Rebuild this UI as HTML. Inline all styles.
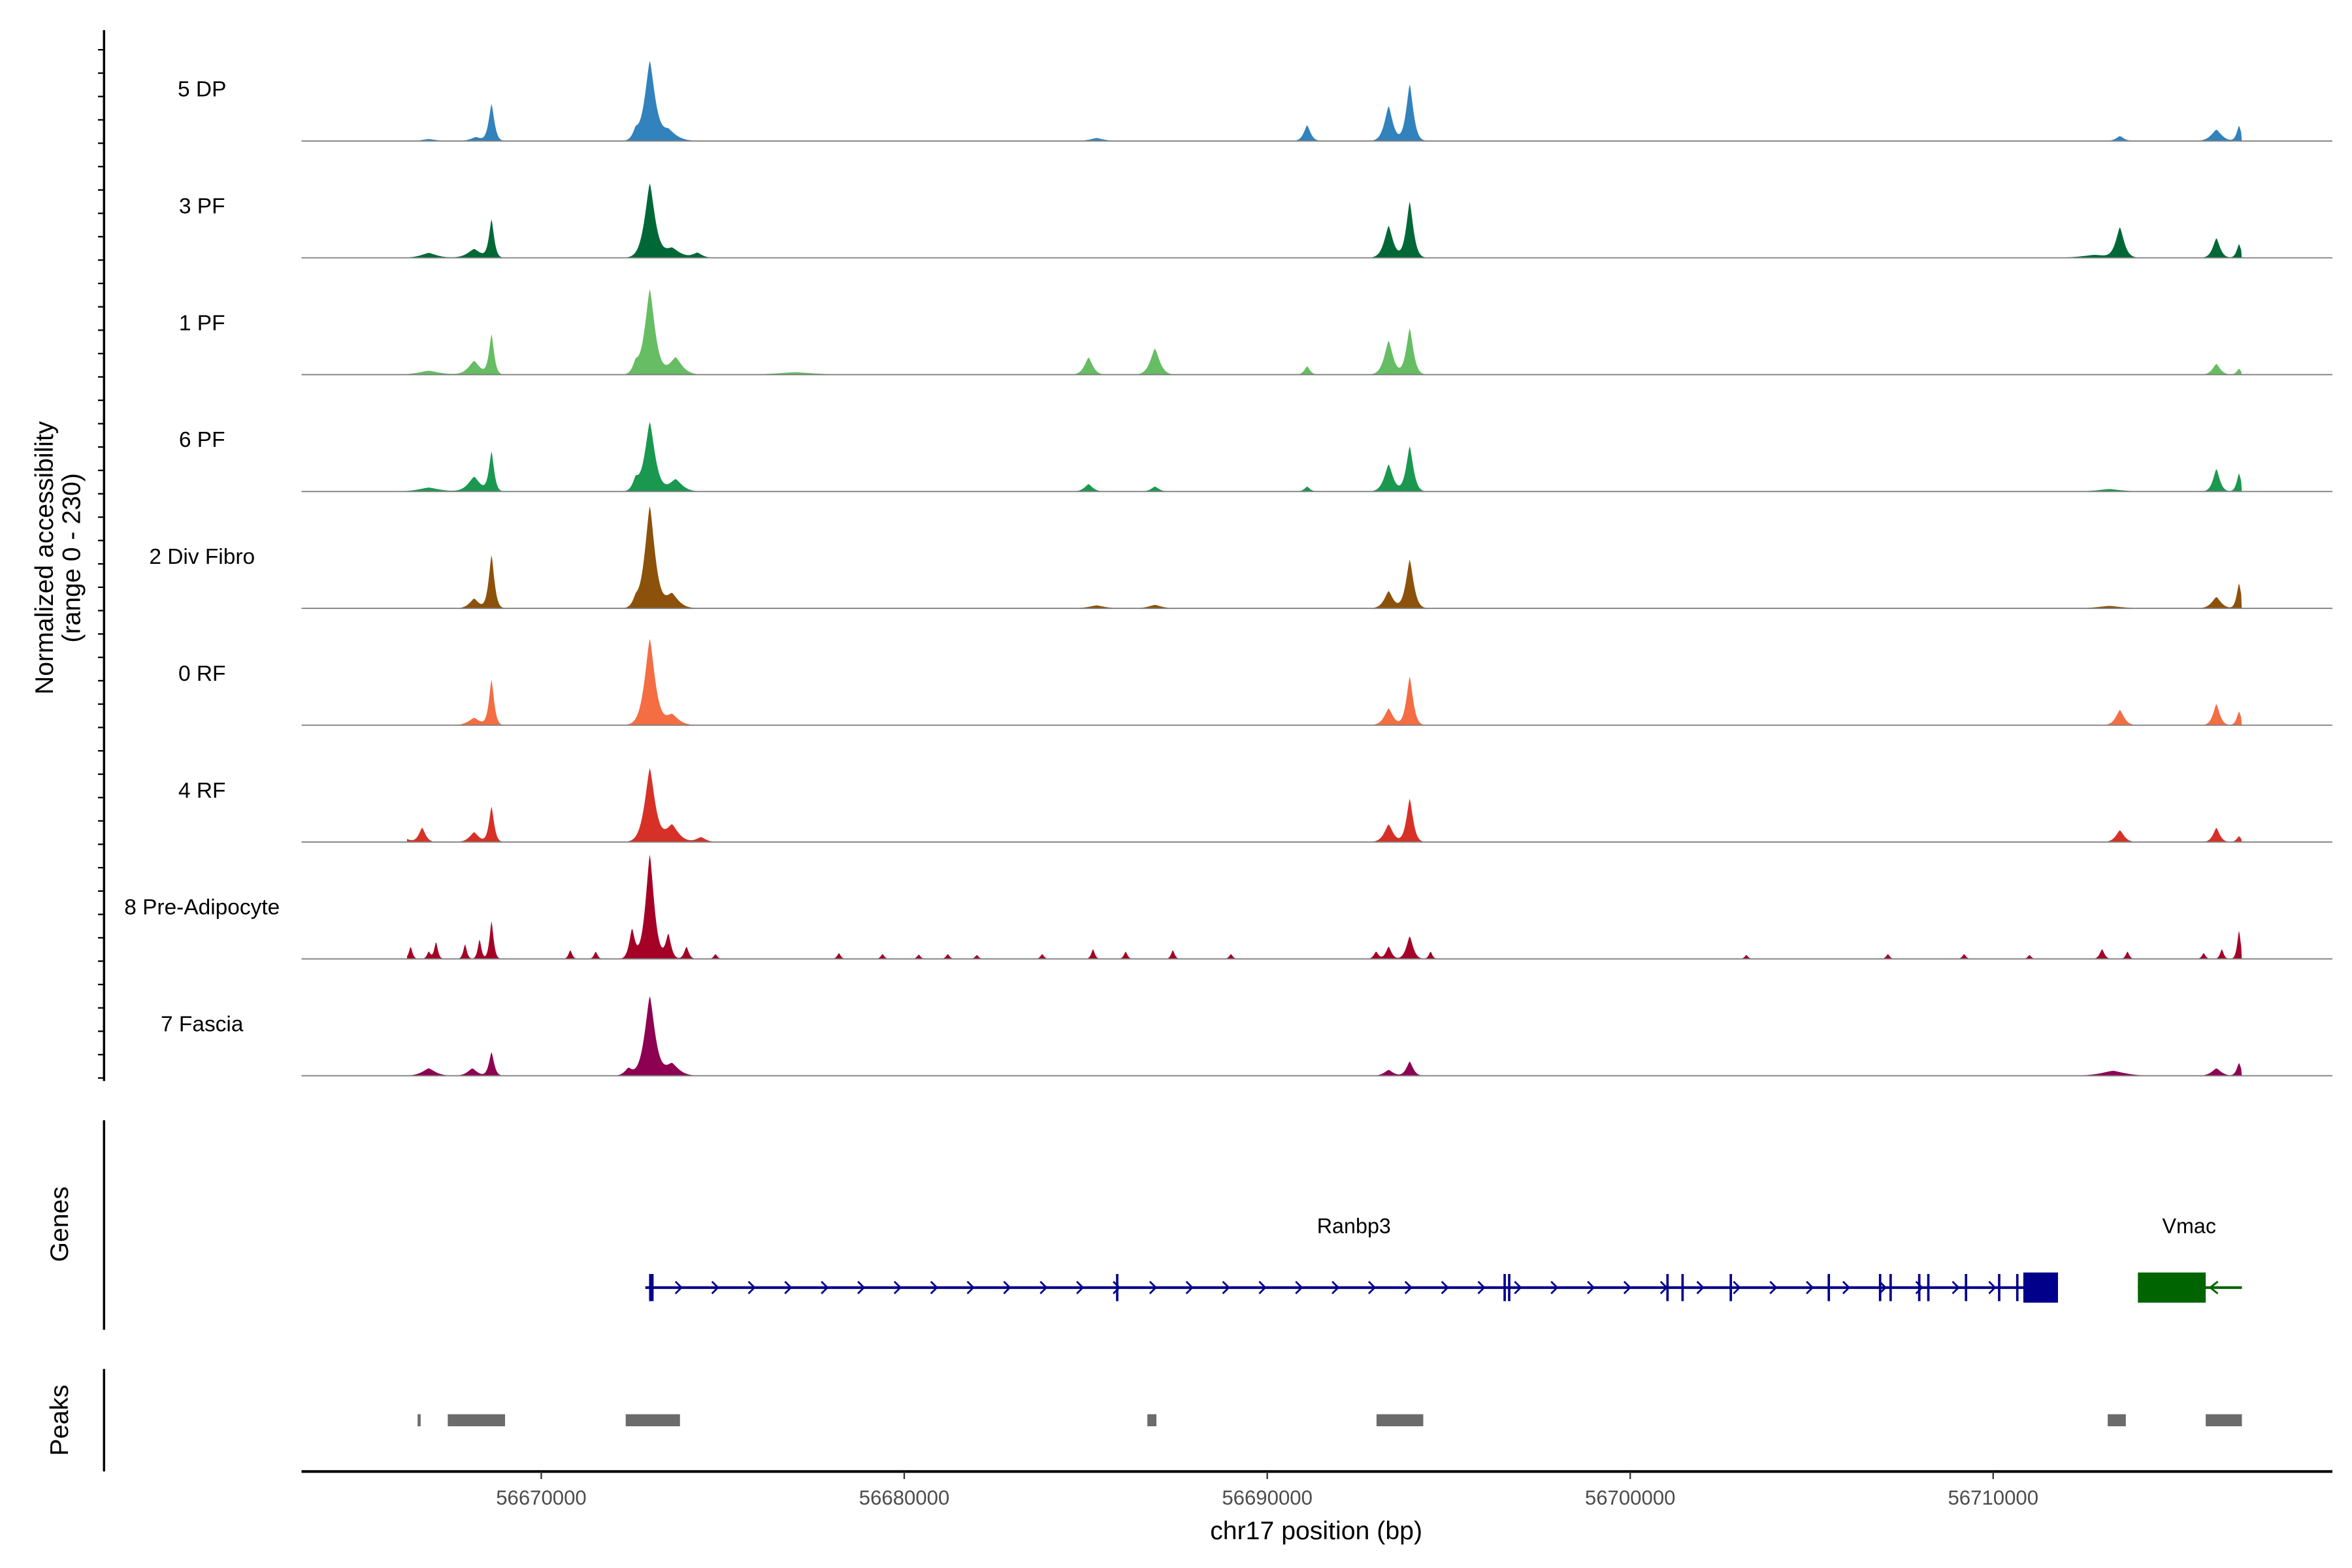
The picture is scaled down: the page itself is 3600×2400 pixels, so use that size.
<!DOCTYPE html>
<html><head><meta charset="utf-8">
<style>
html,body{margin:0;padding:0;background:#fff;}
svg{display:block;font-family:"Liberation Sans",sans-serif;}
</style></head>
<body>
<svg id="chart" width="3600" height="2400" viewBox="0 0 1560 1040" xmlns="http://www.w3.org/2000/svg">
<g id="tracks"></g>
<g id="genes"></g>
<g id="peaks"></g>
<g id="axes"></g>
</svg>
<script>
// ---- data ----
const trackNames = ["5 DP","3 PF","1 PF","6 PF","2 Div Fibro","0 RF","4 RF","8 Pre-Adipocyte","7 Fascia"];
const trackColors = ["#3182bd","#006837","#66bd63","#1a9850","#8c510a","#f46d43","#d73027","#a50026","#8e0152"];
// peaks per track: [position_bp, height (0-230), halfwidth_bp]
const peaks5DP = [[56668629,75,110],[56668200,8,200],[56666900,4,250],[56672990,160,200],[56673500,22,300],[56672600,18,120],[56691100,32,130],[56693345,71,160],[56693926,115,140],[56685300,6,250],[56713492,10,150],[56716150,23,200],[56716773,31,90]];
const peaks3PF = [[56668629,77,100],[56668150,18,250],[56666900,10,300],[56672990,150,200],[56673600,20,300],[56674300,10,180],[56693345,65,170],[56693926,114,140],[56713492,61,160],[56716150,40,140],[56716773,28,90],[56712800,6,500]];
const peaks1PF = [[56668629,81,100],[56668150,28,220],[56666900,8,400],[56672990,173,200],[56673700,35,250],[56672600,20,120],[56685078,35,160],[56686906,53,180],[56691100,17,110],[56693345,69,170],[56693926,94,140],[56716150,22,150],[56716773,12,90],[56677000,5,700]];
const peaks6PF = [[56668629,80,100],[56668150,30,230],[56666900,8,400],[56672990,141,200],[56673700,25,250],[56672600,22,120],[56685078,15,160],[56686906,10,150],[56691100,10,110],[56693345,55,170],[56693926,92,140],[56713200,5,450],[56716150,46,130],[56716773,37,90]];
const peaks2Div = [[56668629,108,110],[56668150,20,180],[56672990,207,200],[56673600,30,250],[56672600,15,120],[56693345,35,170],[56693926,99,150],[56685300,6,300],[56686906,7,250],[56716150,23,180],[56716773,51,90],[56713200,5,450]];
const peaks0RF = [[56668629,92,100],[56668150,15,220],[56672990,175,200],[56673600,22,250],[56693345,34,170],[56693926,99,130],[56713492,31,160],[56716150,43,130],[56716773,28,90]];
const peaks4RF = [[56668629,72,100],[56668150,20,180],[56666718,29,130],[56666200,10,180],[56672990,149,200],[56673600,35,250],[56674400,10,180],[56693345,36,170],[56693926,88,130],[56713492,24,160],[56716150,29,130],[56716773,12,90]];
const peaks8Pre = [[56668629,77,80],[56668300,40,70],[56667900,30,70],[56667100,35,70],[56666400,25,70],[56666900,15,70],[56670800,18,70],[56671500,15,70],[56672990,212,170],[56672500,60,110],[56673500,50,110],[56674000,25,90],[56674800,10,70],[56678200,12,70],[56679400,10,70],[56680400,9,70],[56681200,10,70],[56682000,8,70],[56683800,10,70],[56685200,20,70],[56686100,15,70],[56687400,18,70],[56689000,10,70],[56693000,15,90],[56693345,25,110],[56693926,46,130],[56694500,15,70],[56703200,8,70],[56707100,10,70],[56709200,10,70],[56711000,8,70],[56713000,20,90],[56713700,15,70],[56715800,12,70],[56716300,20,70],[56716773,58,70]];
const peaks7Fas = [[56668629,48,100],[56668100,15,180],[56666900,15,250],[56672990,161,200],[56673600,25,260],[56672400,15,150],[56693345,12,170],[56693926,29,130],[56713300,10,450],[56716150,15,180],[56716773,26,90]];
const trackPeaks = [peaks5DP,peaks3PF,peaks1PF,peaks6PF,peaks2Div,peaks0RF,peaks4RF,peaks8Pre,peaks7Fas];
const xTicks = [56670000,56680000,56690000,56700000,56710000];
const xTickLabels = ["56670000","56680000","56690000","56700000","56710000"];
const dataRange = [56666300,56716850];
const rangeMax = 230;
const geneRanbp3 = [56672866,56711786];
const ranbp3Exons = [56673032,56685867,56696542,56696667,56701028,56701443,56702772,56705472,56706885,56707175,56707964,56708214,56709252,56710166,56710665];
const ranbp3Block = [56710831,56711786];
const geneVmac = [56713987,56716853];
const vmacBlock = [56713987,56715856];
const peakRegions = [[56666593,56666676],[56667424,56669002],[56672326,56673821],[56686698,56686947],[56693011,56694299],[56713156,56713655],[56715856,56716853]];

// ---- scales ----
const X0=200,X1=1547,BP0=56663395,BP1=56719346;
function xs(bp){return X0+(bp-BP0)/(BP1-BP0)*(X1-X0);}
const TRACK_TOP=20, TRACK_H=77.5, PLOT_H=75;
function base(i){return TRACK_TOP+TRACK_H*(i+1)-4;}
function ys(i,v){return base(i)-v/rangeMax*PLOT_H;}
const NS="http://www.w3.org/2000/svg";
function mk(tag,attrs,parent){const e=document.createElementNS(NS,tag);for(const k in attrs)e.setAttribute(k,attrs[k]);parent.appendChild(e);return e;}

const gT=document.getElementById('tracks');
trackNames.forEach((name,i)=>{
  const g=mk('g',{},gT);
  
  
  const pk=trackPeaks[i];
  let d='M'+xs(dataRange[0])+','+base(i);
  for(let px=Math.ceil(xs(dataRange[0]));px<=xs(dataRange[1]);px+=0.5){
    const bp=BP0+(px-X0)/(X1-X0)*(BP1-BP0);
    let v=0;
    for(const p of pk){const dd=Math.abs(bp-p[0])/p[2];if(dd<6)v+=p[1]*Math.exp(-Math.pow(dd,1.4));}
    v=Math.min(v,rangeMax);
    d+=' L'+px+','+ys(i,v).toFixed(2);
  }
  d+=' L'+xs(dataRange[1])+','+base(i)+' Z';
  const a=mk('path',{d:d,fill:trackColors[i]},g);
  
  
  const bl=mk('line',{x1:X0,x2:X1,y1:base(i),y2:base(i),stroke:'#7f7f7f','stroke-width':0.8},g);
  
  
  const t=mk('text',{x:134,y:TRACK_TOP+TRACK_H*i+44,'font-size':14.5,'text-anchor':'middle',fill:'#000'},g);
  t.textContent=name;
  
  
});

// left axis + ticks
const gA=document.getElementById('axes');
const la=mk('line',{x1:69,x2:69,y1:20,y2:717,stroke:'#000','stroke-width':1.5},gA);


for(let y=33;y<716;y+=15.5){
  const tk=mk('line',{x1:65,x2:69,y1:y,y2:y,stroke:'#000','stroke-width':1},gA);
  
  
}
const yt=mk('text',{transform:'translate(35,370) rotate(-90)','font-size':17,'text-anchor':'middle'},gA);
yt.textContent='Normalized accessibility';


const yt2=mk('text',{transform:'translate(53,370) rotate(-90)','font-size':17,'text-anchor':'middle'},gA);
yt2.textContent='(range 0 - 230)';



// genes
const gG=document.getElementById('genes');
const gl=mk('line',{x1:69,x2:69,y1:743,y2:882,stroke:'#000','stroke-width':1.5},gG);


const gt=mk('text',{transform:'translate(45,812) rotate(-90)','font-size':17,'text-anchor':'middle'},gG);
gt.textContent='Genes';


const GY=854;
const rl=mk('line',{x1:xs(geneRanbp3[0]),x2:xs(geneRanbp3[1]),y1:GY,y2:GY,stroke:'#00008b','stroke-width':1.8},gG);


for(let x=xs(geneRanbp3[0])+22;x<xs(ranbp3Block[0])-8;x+=24.2){
  const c=mk('path',{d:`M${x-2},${GY-4} L${x+2},${GY} L${x-2},${GY+4}`,fill:'none',stroke:'#00008b','stroke-width':1.2},gG);
  
  
}
ranbp3Exons.forEach((e,k)=>{
  const r=mk('rect',{x:xs(e)-(k==0?1.5:0.8),y:845,width:k==0?3:1.6,height:18,fill:'#00008b'},gG);
  
  
});
const rb=mk('rect',{x:xs(ranbp3Block[0]),y:844,width:xs(ranbp3Block[1])-xs(ranbp3Block[0]),height:20,fill:'#00008b'},gG);


const rt=mk('text',{x:898,y:818,'font-size':14,'text-anchor':'middle'},gG);
rt.textContent='Ranbp3';


const vl=mk('line',{x1:xs(geneVmac[0]),x2:xs(geneVmac[1]),y1:GY,y2:GY,stroke:'#006400','stroke-width':1.8},gG);


const vc=mk('path',{d:`M${xs(vmacBlock[1])+8},${GY-4} L${xs(vmacBlock[1])+3},${GY} L${xs(vmacBlock[1])+8},${GY+4}`,fill:'none',stroke:'#006400','stroke-width':1.3},gG);


const vb=mk('rect',{x:xs(vmacBlock[0]),y:844,width:xs(vmacBlock[1])-xs(vmacBlock[0]),height:20,fill:'#006400'},gG);


const vt=mk('text',{x:1452,y:818,'font-size':14,'text-anchor':'middle'},gG);
vt.textContent='Vmac';



// peaks
const gP=document.getElementById('peaks');
const pl=mk('line',{x1:69,x2:69,y1:908,y2:976,stroke:'#000','stroke-width':1.5},gP);


const pt=mk('text',{transform:'translate(45,942) rotate(-90)','font-size':17,'text-anchor':'middle'},gP);
pt.textContent='Peaks';


peakRegions.forEach(p=>{
  const r=mk('rect',{x:xs(p[0]),y:938,width:Math.max(xs(p[1])-xs(p[0]),2),height:8,fill:'#6b6b6b'},gP);
  
  
});

// x axis
const xa=mk('line',{x1:X0,x2:X1,y1:976,y2:976,stroke:'#000','stroke-width':1.8},gA);


xTicks.forEach((t,k)=>{
  const tk=mk('line',{x1:xs(t),x2:xs(t),y1:976,y2:981,stroke:'#333','stroke-width':1},gA);
  
  
  const tl=mk('text',{x:xs(t),y:998,'font-size':13.5,'text-anchor':'middle',fill:'#4d4d4d'},gA);
  tl.textContent=xTickLabels[k];
  
  
});
const xt=mk('text',{x:873,y:1021,'font-size':17,'text-anchor':'middle'},gA);
xt.textContent='chr17 position (bp)';


</script>
</body></html>
